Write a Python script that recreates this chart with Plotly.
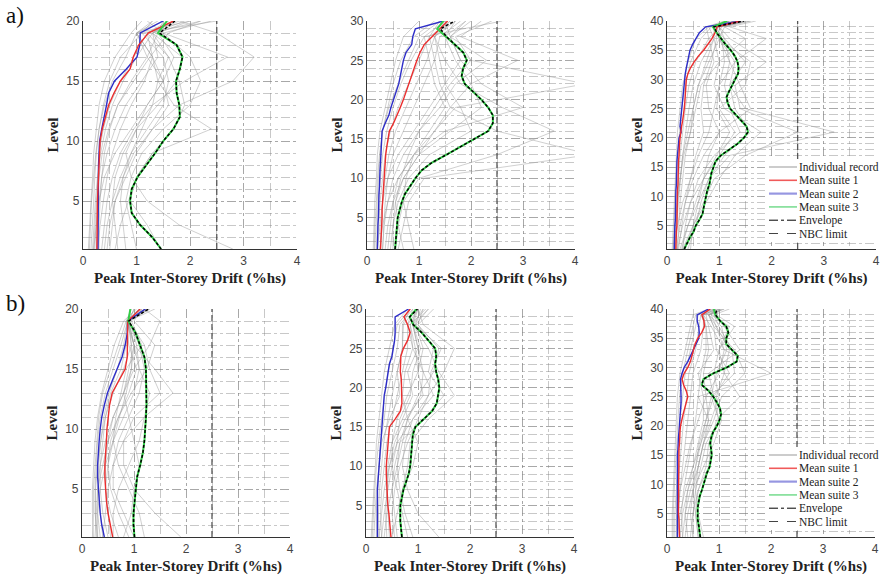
import plotly.graph_objects as go

W, H = 880, 578

# ------------------------------------------------------------------ data
X_TICKS = [0, 1, 2, 3, 4]
NBC_LIMIT = 2.5
LEVELS_20 = list(range(1, 21))
LEVELS_30 = list(range(1, 31))
LEVELS_40 = list(range(1, 41))

# ---- (a) 20-storey
A1_MEAN1 = [0.26, 0.26, 0.27, 0.27, 0.27, 0.28, 0.29, 0.30, 0.31, 0.32, 0.36, 0.42, 0.48, 0.58, 0.70, 0.88, 0.94, 1.04, 1.22, 1.69]
A1_MEAN2 = [0.28, 0.28, 0.28, 0.28, 0.28, 0.28, 0.29, 0.29, 0.30, 0.31, 0.35, 0.40, 0.44, 0.48, 0.59, 0.81, 1.01, 1.06, 1.07, 1.50]
A1_MEAN3 = [1.46, 1.29, 1.07, 0.91, 0.88, 0.91, 1.02, 1.19, 1.35, 1.50, 1.69, 1.81, 1.80, 1.75, 1.74, 1.81, 1.86, 1.75, 1.40, 1.57]
A1_ENV = [1.46, 1.29, 1.07, 0.91, 0.88, 0.91, 1.02, 1.19, 1.35, 1.50, 1.69, 1.81, 1.80, 1.75, 1.74, 1.81, 1.86, 1.75, 1.43, 1.72]
A1_REC_LEVELS = [1, 3, 5, 7, 9, 11, 13, 15, 17, 19, 20]
A1_RECORDS = [
    [0.15, 0.18, 0.20, 0.22, 0.25, 0.30, 0.40, 0.55, 0.80, 1.00, 1.40],
    [0.20, 0.22, 0.25, 0.28, 0.30, 0.38, 0.50, 0.70, 0.95, 1.20, 1.70],
    [0.30, 0.30, 0.32, 0.35, 0.40, 0.50, 0.65, 0.90, 1.20, 1.40, 2.00],
    [0.25, 0.28, 0.30, 0.35, 0.45, 0.60, 0.80, 1.10, 1.40, 1.30, 1.90],
    [0.40, 0.45, 0.55, 0.70, 0.90, 1.20, 1.50, 1.60, 1.50, 1.10, 2.50],
    [0.60, 0.70, 0.85, 1.00, 1.30, 1.70, 1.90, 1.80, 1.60, 1.20, 1.60],
    [1.00, 0.90, 0.80, 0.90, 1.10, 1.50, 2.00, 2.20, 2.00, 1.50, 2.40],
    [1.45, 1.20, 0.88, 1.00, 1.30, 2.40, 1.70, 1.40, 1.30, 1.00, 2.00],
    [0.50, 0.55, 0.60, 0.80, 1.00, 1.30, 1.80, 2.80, 3.20, 2.50, 1.80],
    [0.20, 0.25, 0.30, 0.40, 0.60, 0.90, 1.20, 1.50, 1.70, 1.40, 1.50],
    [0.10, 0.12, 0.15, 0.18, 0.20, 0.25, 0.30, 0.40, 0.60, 0.90, 1.10],
    [0.80, 0.75, 0.70, 0.75, 0.90, 1.10, 1.30, 1.40, 1.60, 1.30, 2.20],
    [2.80, 1.80, 1.20, 0.90, 0.80, 1.00, 1.20, 1.50, 1.20, 1.00, 1.50],
    [0.35, 0.40, 0.45, 0.55, 0.70, 0.95, 1.30, 1.90, 2.70, 1.50, 1.20],
    [0.12, 0.14, 0.16, 0.20, 0.24, 0.30, 0.38, 0.50, 0.70, 1.10, 1.30],
    [0.18, 0.20, 0.23, 0.27, 0.33, 0.42, 0.55, 0.75, 1.00, 1.30, 1.60],
    [0.28, 0.32, 0.38, 0.45, 0.55, 0.70, 0.90, 1.15, 1.30, 1.20, 1.80],
    [0.22, 0.24, 0.27, 0.30, 0.36, 0.48, 0.65, 0.95, 1.25, 1.60, 2.20],
    [0.65, 0.60, 0.55, 0.60, 0.75, 1.00, 1.40, 1.75, 1.85, 1.30, 1.70],
    [0.45, 0.50, 0.60, 0.75, 0.95, 1.30, 1.60, 1.50, 1.30, 1.00, 1.30],
]

# ---- (a) 30-storey
A2_MEAN1 = [0.26, 0.27, 0.27, 0.28, 0.29, 0.29, 0.30, 0.30, 0.31, 0.32, 0.33, 0.35, 0.36, 0.38, 0.40, 0.43, 0.51, 0.58, 0.64, 0.70,
            0.75, 0.80, 0.86, 0.91, 0.96, 1.02, 1.10, 1.25, 1.41, 1.55]
A2_MEAN2 = [0.20, 0.20, 0.21, 0.21, 0.22, 0.22, 0.23, 0.23, 0.24, 0.24, 0.25, 0.26, 0.27, 0.28, 0.29, 0.29, 0.35, 0.42, 0.46, 0.51,
            0.56, 0.61, 0.64, 0.67, 0.70, 0.75, 0.86, 0.88, 0.93, 1.47]
A2_MEAN3 = [0.54, 0.55, 0.56, 0.58, 0.59, 0.63, 0.67, 0.73, 0.83, 0.93, 1.05, 1.25, 1.53, 1.79, 2.06, 2.33, 2.42, 2.42, 2.33, 2.20,
            2.04, 1.88, 1.82, 1.85, 1.92, 1.85, 1.69, 1.53, 1.35, 1.47]
A2_ENV = [0.54, 0.55, 0.56, 0.58, 0.59, 0.63, 0.67, 0.73, 0.83, 0.93, 1.05, 1.25, 1.53, 1.79, 2.06, 2.33, 2.42, 2.42, 2.33, 2.20,
          2.04, 1.88, 1.82, 1.85, 1.92, 1.85, 1.69, 1.53, 1.41, 1.69]
A2_REC_LEVELS = [1, 4, 7, 10, 13, 16, 19, 22, 25, 28, 30]
A2_RECORDS = [
    [0.15, 0.17, 0.20, 0.22, 0.25, 0.30, 0.40, 0.50, 0.65, 0.90, 1.30],
    [0.20, 0.22, 0.25, 0.30, 0.35, 0.45, 0.60, 0.80, 1.00, 1.20, 1.60],
    [0.30, 0.32, 0.35, 0.40, 0.50, 0.70, 0.90, 1.10, 1.30, 1.40, 1.80],
    [0.50, 0.50, 0.55, 0.70, 1.00, 1.60, 2.20, 2.00, 1.70, 1.50, 1.90],
    [0.40, 0.45, 0.50, 0.60, 0.90, 1.50, 3.00, 2.20, 1.80, 1.60, 2.00],
    [0.55, 0.60, 0.70, 1.00, 2.50, 3.60, 2.60, 1.80, 1.50, 1.30, 1.50],
    [0.60, 0.70, 0.80, 1.10, 4.30, 2.50, 1.60, 1.40, 1.30, 1.20, 1.40],
    [0.25, 0.30, 0.40, 0.60, 0.90, 1.30, 1.70, 4.20, 2.00, 1.50, 1.70],
    [0.35, 0.40, 0.50, 0.70, 1.00, 1.30, 1.60, 2.00, 2.90, 1.80, 2.20],
    [0.20, 0.25, 0.30, 0.40, 0.60, 0.90, 1.20, 1.50, 1.80, 1.60, 1.50],
    [0.70, 0.60, 0.55, 0.65, 0.80, 1.00, 1.30, 1.60, 2.00, 1.70, 2.40],
    [0.12, 0.13, 0.15, 0.18, 0.20, 0.25, 0.35, 0.45, 0.55, 0.70, 1.00],
    [0.18, 0.20, 0.22, 0.26, 0.30, 0.38, 0.50, 0.65, 0.85, 1.10, 1.50],
    [0.25, 0.27, 0.30, 0.35, 0.42, 0.55, 0.75, 0.95, 1.15, 1.30, 1.70],
    [0.14, 0.15, 0.18, 0.20, 0.24, 0.30, 0.42, 0.60, 0.80, 1.00, 1.40],
    [0.45, 0.50, 0.60, 0.80, 1.20, 2.00, 1.80, 1.50, 1.40, 1.30, 1.60],
    [0.30, 0.33, 0.40, 0.50, 0.70, 1.00, 1.40, 1.70, 2.30, 1.60, 1.90],
    [0.90, 0.80, 0.70, 0.75, 0.90, 1.20, 1.50, 1.30, 1.20, 1.10, 2.60],
]

# ---- (a) 40-storey
A3_MEAN1 = [0.17, 0.17, 0.18, 0.18, 0.19, 0.19, 0.19, 0.20, 0.20, 0.20, 0.20, 0.21, 0.21, 0.21, 0.22, 0.22, 0.23, 0.23, 0.24, 0.25,
            0.26, 0.28, 0.30, 0.32, 0.33, 0.34, 0.35, 0.36, 0.37, 0.37, 0.40, 0.45, 0.52, 0.60, 0.70, 0.78, 0.86, 0.92, 0.96, 1.40]
A3_MEAN2 = [0.14, 0.14, 0.15, 0.15, 0.15, 0.16, 0.16, 0.16, 0.17, 0.17, 0.17, 0.18, 0.18, 0.18, 0.19, 0.19, 0.20, 0.21, 0.22, 0.23,
            0.27, 0.25, 0.26, 0.27, 0.28, 0.29, 0.30, 0.31, 0.32, 0.33, 0.35, 0.37, 0.39, 0.41, 0.44, 0.49, 0.55, 0.62, 0.74, 1.41]
A3_MEAN3 = [0.33, 0.38, 0.44, 0.51, 0.55, 0.62, 0.68, 0.70, 0.72, 0.74, 0.77, 0.81, 0.83, 0.85, 0.89, 0.93, 1.03, 1.19, 1.35, 1.47,
            1.55, 1.52, 1.41, 1.30, 1.21, 1.16, 1.14, 1.19, 1.25, 1.31, 1.36, 1.37, 1.35, 1.30, 1.22, 1.12, 1.03, 0.95, 0.88, 1.15]
A3_ENV = [0.33, 0.38, 0.44, 0.51, 0.55, 0.62, 0.68, 0.70, 0.72, 0.74, 0.77, 0.81, 0.83, 0.85, 0.89, 0.93, 1.03, 1.19, 1.35, 1.47,
          1.55, 1.52, 1.41, 1.30, 1.21, 1.16, 1.14, 1.19, 1.25, 1.31, 1.36, 1.37, 1.35, 1.30, 1.22, 1.12, 1.03, 0.95, 0.90, 1.47]
A3_REC_LEVELS = [1, 5, 9, 13, 17, 21, 25, 29, 33, 37, 39, 40]
A3_RECORDS = [
    [0.10, 0.12, 0.14, 0.15, 0.18, 0.20, 0.25, 0.30, 0.40, 0.55, 0.80, 1.20],
    [0.15, 0.17, 0.20, 0.22, 0.25, 0.30, 0.35, 0.42, 0.55, 0.80, 1.00, 1.50],
    [0.20, 0.22, 0.25, 0.30, 0.35, 0.45, 0.50, 0.60, 0.80, 1.00, 1.10, 1.60],
    [0.30, 0.35, 0.45, 0.60, 0.90, 1.40, 1.20, 1.10, 1.20, 1.10, 1.00, 1.40],
    [0.25, 0.40, 0.60, 0.80, 1.20, 3.20, 1.50, 1.20, 1.30, 1.00, 0.90, 1.30],
    [0.30, 0.50, 0.70, 0.90, 1.50, 2.50, 1.40, 1.30, 1.90, 1.20, 1.00, 1.50],
    [0.20, 0.30, 0.45, 0.70, 1.00, 1.30, 1.00, 1.50, 1.60, 1.00, 0.90, 1.40],
    [0.15, 0.20, 0.30, 0.45, 0.60, 0.80, 0.90, 1.00, 1.30, 1.90, 1.20, 1.70],
    [0.40, 0.55, 0.65, 0.80, 1.10, 1.60, 1.30, 1.20, 1.50, 1.10, 0.90, 1.30],
    [0.12, 0.15, 0.20, 0.25, 0.30, 0.40, 0.50, 0.60, 0.75, 0.90, 0.90, 1.30],
    [0.35, 0.50, 0.75, 1.00, 1.30, 1.80, 1.10, 0.90, 1.00, 0.90, 0.80, 1.20],
    [0.18, 0.25, 0.35, 0.50, 0.70, 1.00, 0.80, 0.75, 0.90, 0.80, 0.75, 1.10],
    [0.12, 0.13, 0.15, 0.17, 0.20, 0.24, 0.28, 0.35, 0.45, 0.65, 0.85, 1.30],
    [0.16, 0.18, 0.22, 0.26, 0.30, 0.36, 0.42, 0.50, 0.65, 0.90, 1.05, 1.45],
    [0.22, 0.28, 0.35, 0.45, 0.55, 0.70, 0.65, 0.70, 0.85, 0.95, 0.95, 1.35],
    [0.28, 0.40, 0.55, 0.70, 0.95, 1.20, 0.95, 1.00, 1.10, 1.05, 0.95, 1.60],
    [0.14, 0.16, 0.20, 0.25, 0.32, 0.45, 0.55, 0.65, 1.00, 1.50, 1.10, 1.50],
    [0.45, 0.50, 0.60, 0.70, 0.80, 1.00, 1.60, 1.40, 1.20, 1.00, 0.90, 1.20],
]

# ---- (b) 20-storey
B1_MEAN1 = [0.59, 0.54, 0.50, 0.47, 0.45, 0.44, 0.44, 0.46, 0.47, 0.48, 0.50, 0.53, 0.58, 0.71, 0.83, 0.87, 0.87, 0.87, 0.88, 1.12]
B1_MEAN2 = [0.43, 0.38, 0.35, 0.33, 0.31, 0.30, 0.30, 0.31, 0.33, 0.35, 0.38, 0.43, 0.49, 0.58, 0.67, 0.77, 0.83, 0.87, 0.88, 1.22]
B1_MEAN3 = [1.01, 0.99, 0.99, 1.01, 1.03, 1.06, 1.12, 1.17, 1.20, 1.22, 1.23, 1.24, 1.24, 1.24, 1.23, 1.20, 1.12, 1.03, 0.89, 0.93]
B1_ENV = [1.01, 0.99, 0.99, 1.01, 1.03, 1.06, 1.12, 1.17, 1.20, 1.22, 1.23, 1.24, 1.24, 1.24, 1.23, 1.20, 1.12, 1.03, 0.90, 1.28]
B1_REC_LEVELS = [1, 3, 5, 7, 9, 11, 13, 15, 17, 19, 20]
B1_RECORDS = [
    [0.20, 0.22, 0.22, 0.25, 0.28, 0.32, 0.40, 0.55, 0.70, 0.85, 1.10],
    [0.30, 0.25, 0.25, 0.27, 0.30, 0.35, 0.45, 0.60, 0.75, 0.88, 1.20],
    [0.50, 0.40, 0.35, 0.35, 0.40, 0.45, 0.55, 0.75, 0.85, 0.90, 1.00],
    [0.70, 0.55, 0.45, 0.45, 0.50, 0.60, 0.80, 0.95, 0.95, 0.90, 1.30],
    [1.00, 0.80, 0.60, 0.60, 0.70, 0.90, 1.10, 1.20, 1.10, 0.90, 1.10],
    [0.60, 0.60, 0.70, 0.90, 1.10, 1.20, 1.30, 1.10, 1.00, 0.85, 1.20],
    [0.80, 0.95, 1.00, 1.10, 1.00, 0.90, 0.80, 0.90, 1.00, 0.90, 1.40],
    [1.90, 1.40, 1.00, 0.80, 0.80, 1.00, 1.50, 1.30, 1.20, 0.90, 1.00],
    [0.40, 0.45, 0.50, 0.60, 0.80, 1.20, 1.75, 1.40, 1.00, 0.88, 1.30],
    [0.35, 0.30, 0.30, 0.35, 0.45, 0.60, 0.80, 1.00, 1.30, 1.50, 1.20],
    [0.25, 0.28, 0.30, 0.40, 0.50, 0.70, 0.90, 1.05, 0.90, 0.85, 0.95],
    [1.20, 1.10, 0.90, 0.70, 0.60, 0.65, 0.75, 0.85, 1.15, 0.95, 1.15],
    [0.22, 0.20, 0.20, 0.22, 0.25, 0.30, 0.38, 0.50, 0.62, 0.80, 1.05],
    [0.40, 0.35, 0.32, 0.32, 0.36, 0.42, 0.52, 0.68, 0.80, 0.88, 1.25],
    [0.55, 0.50, 0.45, 0.50, 0.60, 0.72, 0.85, 0.95, 1.00, 0.90, 1.10],
    [0.30, 0.30, 0.35, 0.45, 0.60, 0.80, 1.00, 1.10, 1.05, 0.92, 1.20],
    [0.90, 0.70, 0.55, 0.50, 0.55, 0.70, 0.95, 1.25, 1.40, 1.00, 1.15],
    [0.28, 0.26, 0.26, 0.30, 0.36, 0.45, 0.60, 0.80, 0.95, 0.88, 1.30],
]

# ---- (b) 30-storey
B2_MEAN1 = [0.48, 0.47, 0.45, 0.44, 0.42, 0.41, 0.40, 0.39, 0.39, 0.39, 0.40, 0.41, 0.42, 0.43, 0.45, 0.56, 0.66, 0.69, 0.69, 0.69,
            0.68, 0.66, 0.66, 0.67, 0.72, 0.80, 0.85, 0.80, 0.73, 0.85]
B2_MEAN2 = [0.22, 0.22, 0.21, 0.21, 0.21, 0.22, 0.22, 0.23, 0.24, 0.25, 0.26, 0.27, 0.28, 0.29, 0.31, 0.31, 0.33, 0.34, 0.35, 0.38,
            0.40, 0.43, 0.45, 0.50, 0.53, 0.55, 0.56, 0.56, 0.56, 0.82]
B2_MEAN3 = [0.69, 0.67, 0.66, 0.66, 0.66, 0.69, 0.72, 0.77, 0.82, 0.85, 0.86, 0.88, 0.88, 0.90, 0.95, 1.11, 1.27, 1.36, 1.39, 1.41,
            1.39, 1.35, 1.33, 1.35, 1.33, 1.20, 1.07, 0.91, 0.84, 0.97]
B2_ENV = [0.69, 0.67, 0.66, 0.66, 0.66, 0.69, 0.72, 0.77, 0.82, 0.85, 0.86, 0.88, 0.88, 0.90, 0.95, 1.11, 1.27, 1.36, 1.39, 1.41,
          1.39, 1.35, 1.33, 1.35, 1.33, 1.20, 1.07, 0.91, 0.84, 0.99]
B2_REC_LEVELS = [1, 4, 7, 10, 13, 16, 19, 22, 25, 28, 30]
B2_RECORDS = [
    [0.10, 0.12, 0.15, 0.18, 0.20, 0.25, 0.30, 0.35, 0.45, 0.55, 0.80],
    [0.20, 0.20, 0.22, 0.25, 0.28, 0.35, 0.40, 0.50, 0.60, 0.65, 0.90],
    [0.30, 0.28, 0.30, 0.35, 0.40, 0.50, 0.60, 0.70, 0.80, 0.80, 1.00],
    [0.45, 0.42, 0.40, 0.42, 0.50, 0.70, 0.90, 0.80, 1.00, 0.90, 0.95],
    [0.60, 0.55, 0.50, 0.55, 0.65, 1.10, 1.50, 1.20, 1.30, 1.00, 1.10],
    [0.70, 0.65, 0.70, 0.80, 0.85, 1.20, 1.70, 1.40, 1.20, 0.90, 1.20],
    [1.40, 1.00, 0.80, 0.70, 0.75, 0.90, 1.20, 1.50, 1.70, 1.10, 1.00],
    [0.35, 0.40, 0.50, 0.60, 0.70, 0.80, 1.00, 1.30, 1.40, 1.00, 1.30],
    [0.25, 0.30, 0.35, 0.45, 0.60, 0.90, 1.30, 1.10, 0.90, 0.80, 0.90],
    [0.50, 0.60, 0.70, 0.90, 1.00, 0.80, 0.70, 0.75, 0.90, 0.85, 1.15],
    [0.15, 0.17, 0.20, 0.25, 0.30, 0.45, 0.65, 0.60, 0.70, 0.70, 0.85],
    [0.80, 0.70, 0.60, 0.50, 0.50, 0.60, 0.80, 1.00, 1.10, 0.95, 1.20],
    [0.12, 0.14, 0.17, 0.20, 0.24, 0.30, 0.36, 0.42, 0.52, 0.60, 0.85],
    [0.25, 0.24, 0.26, 0.30, 0.34, 0.42, 0.50, 0.60, 0.70, 0.72, 0.95],
    [0.40, 0.38, 0.40, 0.45, 0.55, 0.75, 1.10, 1.00, 0.95, 0.85, 1.00],
    [0.55, 0.50, 0.55, 0.65, 0.80, 1.00, 1.20, 1.25, 1.45, 0.95, 1.05],
    [0.30, 0.35, 0.42, 0.50, 0.60, 0.65, 0.85, 0.90, 1.05, 0.90, 1.10],
    [0.90, 0.75, 0.65, 0.60, 0.65, 0.80, 1.05, 1.10, 1.00, 0.90, 1.00],
]

# ---- (b) 40-storey
B3_MEAN1 = [0.24, 0.24, 0.23, 0.23, 0.22, 0.22, 0.22, 0.22, 0.22, 0.22, 0.22, 0.22, 0.23, 0.23, 0.23, 0.23, 0.24, 0.24, 0.25, 0.26,
            0.28, 0.31, 0.34, 0.37, 0.40, 0.37, 0.32, 0.29, 0.33, 0.40, 0.45, 0.48, 0.51, 0.54, 0.59, 0.67, 0.72, 0.71, 0.67, 0.83]
B3_MEAN2 = [0.20, 0.20, 0.19, 0.19, 0.19, 0.19, 0.19, 0.19, 0.19, 0.19, 0.19, 0.19, 0.20, 0.20, 0.20, 0.21, 0.21, 0.22, 0.23, 0.24,
            0.25, 0.26, 0.26, 0.27, 0.27, 0.27, 0.27, 0.26, 0.29, 0.33, 0.40, 0.45, 0.51, 0.56, 0.61, 0.62, 0.61, 0.58, 0.58, 0.80]
B3_MEAN3 = [0.64, 0.63, 0.61, 0.59, 0.59, 0.59, 0.61, 0.63, 0.67, 0.70, 0.73, 0.77, 0.82, 0.84, 0.86, 0.85, 0.83, 0.85, 0.89, 0.96,
            1.01, 1.04, 1.02, 0.96, 0.89, 0.80, 0.67, 0.70, 0.89, 1.15, 1.34, 1.36, 1.25, 1.14, 1.14, 1.18, 1.14, 1.02, 0.93, 0.90]
B3_ENV = [0.64, 0.63, 0.61, 0.59, 0.59, 0.59, 0.61, 0.63, 0.67, 0.70, 0.73, 0.77, 0.82, 0.84, 0.86, 0.85, 0.83, 0.85, 0.89, 0.96,
          1.01, 1.04, 1.02, 0.96, 0.89, 0.80, 0.67, 0.70, 0.89, 1.15, 1.34, 1.36, 1.25, 1.14, 1.14, 1.18, 1.14, 1.02, 0.93, 0.96]
B3_REC_LEVELS = [1, 5, 9, 13, 17, 21, 25, 29, 33, 37, 39, 40]
B3_RECORDS = [
    [0.10, 0.10, 0.12, 0.14, 0.15, 0.18, 0.20, 0.25, 0.35, 0.45, 0.50, 0.80],
    [0.15, 0.15, 0.18, 0.20, 0.22, 0.25, 0.30, 0.35, 0.45, 0.55, 0.60, 0.90],
    [0.25, 0.22, 0.25, 0.30, 0.35, 0.40, 0.45, 0.50, 0.65, 0.70, 0.70, 0.95],
    [0.40, 0.35, 0.40, 0.50, 0.60, 0.70, 0.70, 0.60, 0.90, 0.80, 0.75, 1.00],
    [0.60, 0.55, 0.60, 0.75, 0.80, 1.00, 0.85, 1.30, 1.25, 1.00, 0.90, 1.05],
    [0.50, 0.50, 0.60, 0.80, 0.85, 0.95, 1.40, 1.10, 1.00, 1.20, 0.85, 0.90],
    [0.30, 0.35, 0.45, 0.60, 0.70, 0.90, 1.05, 1.50, 1.30, 0.90, 0.80, 1.10],
    [0.20, 0.25, 0.35, 0.50, 0.65, 0.80, 0.60, 2.00, 1.10, 0.85, 0.70, 0.95],
    [0.45, 0.50, 0.55, 0.65, 0.75, 1.00, 0.90, 0.80, 1.40, 1.10, 0.90, 1.20],
    [0.70, 0.60, 0.55, 0.60, 0.70, 0.85, 1.00, 0.90, 1.00, 1.30, 0.95, 1.00],
    [0.18, 0.20, 0.25, 0.35, 0.45, 0.60, 0.75, 0.70, 0.80, 0.75, 0.65, 0.85],
    [0.35, 0.40, 0.50, 0.70, 0.90, 1.05, 0.95, 1.10, 1.20, 0.95, 0.80, 1.00],
    [0.12, 0.12, 0.14, 0.16, 0.18, 0.21, 0.24, 0.30, 0.40, 0.50, 0.55, 0.85],
    [0.20, 0.18, 0.20, 0.24, 0.28, 0.32, 0.38, 0.42, 0.55, 0.62, 0.65, 0.90],
    [0.30, 0.28, 0.32, 0.40, 0.48, 0.55, 0.60, 0.65, 0.75, 0.75, 0.70, 0.95],
    [0.50, 0.45, 0.50, 0.60, 0.70, 0.80, 0.75, 1.00, 1.10, 0.95, 0.85, 1.05],
    [0.25, 0.30, 0.40, 0.55, 0.65, 0.75, 0.85, 0.95, 1.15, 1.05, 0.80, 1.00],
    [0.60, 0.55, 0.50, 0.55, 0.62, 0.75, 0.90, 1.20, 0.95, 0.90, 0.80, 1.10],
]

LEGEND_NAMES = ["Individual record", "Mean suite 1", "Mean suite 2", "Mean suite 3", "Envelope", "NBC limit"]
X_TITLE = "Peak Inter-Storey Drift (%hs)"
Y_TITLE = "Level"
ROW_LABELS = ["a)", "b)"]

# ------------------------------------------------------------------ styling
C_REC = "rgba(150,150,150,0.5)"
C_M1 = "rgb(235,45,45)"
C_M2 = "rgb(45,45,200)"
C_M3 = "rgb(50,205,70)"
C_ENV = "black"
C_NBC = "#555555"
C_AX = "#333333"
C_GRID = "rgba(125,125,125,0.42)"
SERIF = "Liberation Serif"
SANS = "Liberation Sans"

# pixel boxes [x0, x1, y0(top), y1(bottom)]
PANELS = [
    dict(box=(83, 297, 21, 249), levels=LEVELS_20, rec_levels=A1_REC_LEVELS, recs=A1_RECORDS,
         m1=A1_MEAN1, m2=A1_MEAN2, m3=A1_MEAN3, env=A1_ENV),
    dict(box=(367, 575, 21, 249), levels=LEVELS_30, rec_levels=A2_REC_LEVELS, recs=A2_RECORDS,
         m1=A2_MEAN1, m2=A2_MEAN2, m3=A2_MEAN3, env=A2_ENV),
    dict(box=(667, 876, 21, 249), levels=LEVELS_40, rec_levels=A3_REC_LEVELS, recs=A3_RECORDS,
         m1=A3_MEAN1, m2=A3_MEAN2, m3=A3_MEAN3, env=A3_ENV),
    dict(box=(82, 290, 309, 537), levels=LEVELS_20, rec_levels=B1_REC_LEVELS, recs=B1_RECORDS,
         m1=B1_MEAN1, m2=B1_MEAN2, m3=B1_MEAN3, env=B1_ENV),
    dict(box=(366, 574, 309, 537), levels=LEVELS_30, rec_levels=B2_REC_LEVELS, recs=B2_RECORDS,
         m1=B2_MEAN1, m2=B2_MEAN2, m3=B2_MEAN3, env=B2_ENV),
    dict(box=(667, 875, 309, 537), levels=LEVELS_40, rec_levels=B3_REC_LEVELS, recs=B3_RECORDS,
         m1=B3_MEAN1, m2=B3_MEAN2, m3=B3_MEAN3, env=B3_ENV),
]


def px_x(p):
    return p / W


def px_y(p):
    return 1 - p / H


fig = go.Figure()
layout = dict(
    width=W, height=H, margin=dict(l=0, r=0, t=0, b=0, pad=0, autoexpand=False),
    paper_bgcolor="white", plot_bgcolor="white", showlegend=False,
    shapes=[], annotations=[],
)

for i, p in enumerate(PANELS, start=1):
    xa = "x" if i == 1 else f"x{i}"
    ya = "y" if i == 1 else f"y{i}"
    lv = p["levels"]
    top = lv[-1]
    for rec in p["recs"]:
        fig.add_trace(go.Scatter(x=rec, y=p["rec_levels"], mode="lines", xaxis=xa, yaxis=ya,
                                 line=dict(color=C_REC, width=0.9), hoverinfo="skip"))
    fig.add_trace(go.Scatter(x=[NBC_LIMIT, NBC_LIMIT], y=[lv[0], top], mode="lines", xaxis=xa, yaxis=ya,
                             line=dict(color=C_NBC, width=1.3, dash="6px,3px")))
    fig.add_trace(go.Scatter(x=p["m2"], y=lv, mode="lines", xaxis=xa, yaxis=ya,
                             line=dict(color=C_M2, width=1.4)))
    fig.add_trace(go.Scatter(x=p["m1"], y=lv, mode="lines", xaxis=xa, yaxis=ya,
                             line=dict(color=C_M1, width=1.4)))
    fig.add_trace(go.Scatter(x=p["m3"], y=lv, mode="lines", xaxis=xa, yaxis=ya,
                             line=dict(color=C_M3, width=2.0)))
    fig.add_trace(go.Scatter(x=p["env"], y=lv, mode="lines", xaxis=xa, yaxis=ya,
                             line=dict(color=C_ENV, width=1.5, dash="3px,2px")))

    x0, x1, y0, y1 = p["box"]
    key = "" if i == 1 else str(i)
    layout["xaxis" + key] = dict(
        domain=[px_x(x0), px_x(x1)], anchor=ya, range=[X_TICKS[0], X_TICKS[-1]], automargin=False,
        tickvals=X_TICKS, ticks="", showline=True, linecolor=C_AX, linewidth=1.2,
        showgrid=True, gridcolor=C_GRID, gridwidth=0.8, griddash="dashdot", zeroline=False,
        minor=dict(dtick=0.5, showgrid=True, gridcolor=C_GRID, gridwidth=0.8, griddash="dashdot"),
        tickfont=dict(family=SANS, size=12, color="#444444"),
        title=dict(text=X_TITLE, font=dict(family=SERIF, size=15, color="#222222", weight="bold"), standoff=5),
    )
    layout["yaxis" + key] = dict(
        domain=[px_y(y1), px_y(y0)], anchor=xa, range=[lv[0], top], automargin=False,
        tickvals=[v for v in lv if v % 5 == 0], ticks="", showline=True, linecolor=C_AX, linewidth=1.2,
        showgrid=True, gridcolor=C_GRID, gridwidth=0.8, griddash="dashdot", zeroline=False,
        minor=dict(tickvals=lv, showgrid=True, gridcolor=C_GRID, gridwidth=0.8, griddash="dashdot"),
        tickfont=dict(family=SANS, size=12, color="#444444"),
        title=dict(text=Y_TITLE, font=dict(family=SERIF, size=15, color="#222222", weight="bold"), standoff=3),
    )

# row labels
for lab, yc in zip(ROW_LABELS, [16, 303]):
    layout["annotations"].append(dict(text=lab, x=px_x(4), y=px_y(yc), xref="paper", yref="paper",
                                      xanchor="left", yanchor="middle", showarrow=False,
                                      font=dict(family=SERIF, size=23, color="#111111")))

# manual legends (top-right and bottom-right panels)
LEG_STYLES = [
    dict(color="rgb(170,170,170)", width=1.2, dash="solid"),
    dict(color="rgb(240,90,90)", width=1.6, dash="solid"),
    dict(color="rgb(150,150,225)", width=2.2, dash="solid"),
    dict(color="rgb(140,225,160)", width=1.8, dash="solid"),
    dict(color="black", width=1.0, dash="dashdot"),
    dict(color="#444444", width=1.0, dash="dash"),
]
for (bx0, bx1, by0, by1, row0) in [(765, 876, 159, 242, 167), (765, 875, 447, 530, 455)]:
    layout["shapes"].append(dict(type="rect", xref="paper", yref="paper", x0=px_x(bx0), x1=px_x(bx1),
                                 y0=px_y(by1), y1=px_y(by0), fillcolor="white", line=dict(width=0),
                                 layer="above"))
    for k, (name, st) in enumerate(zip(LEGEND_NAMES, LEG_STYLES)):
        yy = row0 + k * 13.3
        layout["shapes"].append(dict(type="line", xref="paper", yref="paper", x0=px_x(769), x1=px_x(797),
                                     y0=px_y(yy), y1=px_y(yy), line=st, layer="above"))
        layout["annotations"].append(dict(text=name, x=px_x(797), y=px_y(yy), xref="paper", yref="paper",
                                          xanchor="left", yanchor="middle", showarrow=False,
                                          font=dict(family=SERIF, size=11.5, color="#222222")))

fig.update_layout(**layout)
fig.write_html("out.html", config={"displayModeBar": False},
               post_script="document.body.style.margin='0';document.body.style.padding='0';"
                           "document.documentElement.style.overflow='hidden';")
